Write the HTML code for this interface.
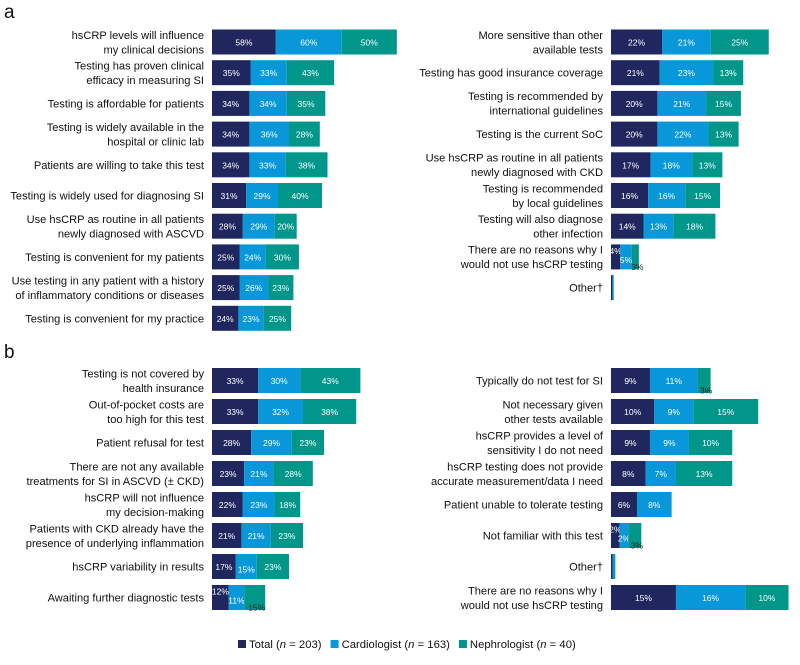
<!DOCTYPE html>
<html><head><meta charset="utf-8"><style>
body{margin:0;background:#fff;}
svg{display:block;font-family:"Liberation Sans",Arial,sans-serif;}
</style></head><body>
<svg id="chart" width="800" height="665" viewBox="0 0 800 665">
<text x="4" y="18" font-size="19" fill="#111">a</text>
<text x="4" y="358" font-size="19" fill="#111">b</text>
<g id="legend"></g>
</svg>
<script>
const colors=["#20275e","#0897d8","#00968a"];
const seriesNames=["Total","Cardiologist","Nephrologist"];
const seriesN=["203","163","40"];

const aLeftCats=[["hsCRP levels will influence","my clinical decisions"],["Testing has proven clinical","efficacy in measuring SI"],["Testing is affordable for patients"],["Testing is widely available in the","hospital or clinic lab"],["Patients are willing to take this test"],["Testing is widely used for diagnosing SI"],["Use hsCRP as routine in all patients","newly diagnosed with ASCVD"],["Testing is convenient for my patients"],["Use testing in any patient with a history","of inflammatory conditions or diseases"],["Testing is convenient for my practice"]];
const aLeftTotal=[58,35,34,34,34,31,28,25,25,24];
const aLeftCardio=[60,33,34,36,33,29,29,24,26,23];
const aLeftNephro=[50,43,35,28,38,40,20,30,23,25];

const aRightCats=[["More sensitive than other","available tests"],["Testing has good insurance coverage"],["Testing is recommended by","international guidelines"],["Testing is the current SoC"],["Use hsCRP as routine in all patients","newly diagnosed with CKD"],["Testing is recommended","by local guidelines"],["Testing will also diagnose","other infection"],["There are no reasons why I","would not use hsCRP testing"],["Other†"]];
const aRightTotal=[22,21,20,20,17,16,14,4,0.6];
const aRightCardio=[21,23,21,22,18,16,13,5,0.6];
const aRightNephro=[25,13,15,13,13,15,18,3,0];

const bLeftCats=[["Testing is not covered by","health insurance"],["Out-of-pocket costs are","too high for this test"],["Patient refusal for test"],["There are not any available","treatments for SI in ASCVD (± CKD)"],["hsCRP will not influence","my decision-making"],["Patients with CKD already have the","presence of underlying inflammation"],["hsCRP variability in results"],["Awaiting further diagnostic tests"]];
const bLeftTotal=[33,33,28,23,22,21,17,12];
const bLeftCardio=[30,32,29,21,23,21,15,11];
const bLeftNephro=[43,38,23,28,18,23,23,15];

const bRightCats=[["Typically do not test for SI"],["Not necessary given","other tests available"],["hsCRP provides a level of","sensitivity I do not need"],["hsCRP testing does not provide","accurate measurement/data I need"],["Patient unable to tolerate testing"],["Not familiar with this test"],["Other†"],["There are no reasons why I","would not use hsCRP testing"]];
const bRightTotal=[9,10,9,8,6,2,0.4,15];
const bRightCardio=[11,9,9,7,8,2,0.6,16];
const bRightNephro=[3,15,10,13,0,3,0,10];

const NS="http://www.w3.org/2000/svg";
const svg=document.getElementById('chart');
function mk(tag,attrs,parent){const e=document.createElementNS(NS,tag);for(const k in attrs)e.setAttribute(k,attrs[k]);(parent||svg).appendChild(e);return e;}

function panel(id,cats,series,x0,scale,y0,step,labelX){
  const g=mk('g',{});
  
  
  const xs=v=>v*scale;
  cats.forEach((lines,i)=>{
    const cy=y0+i*step;
    const t=mk('text',{x:labelX,'text-anchor':'end','font-size':'11.1',fill:'#111'},g);
    
    
    lines.forEach((ln,j)=>{
      const ts=mk('tspan',{x:labelX,y:cy+4+(j-(lines.length-1)/2)*14.5},t);ts.textContent=ln;
    });
    let x=x0;
    series.forEach((vals,s)=>{
      const v=vals[i]; if(!v) return;
      const w=xs(v);
      const r=mk('rect',{x:x,y:cy-12.5,width:w,height:25,fill:colors[s]},g);
      
      
      if(v>=1){
        let tx=x+w/2, ty=cy+3.5, fill='#fff';
        if(w<22){ty=cy-6+s*9+3; fill=s==2?'#222':'#fff'; if(s==2){tx=x+w/2+2;ty=cy+13;}}
        const lt=mk('text',{x:tx,y:ty,'text-anchor':'middle','font-size':'8.5',fill:fill},g);
        
        
        lt.textContent=Math.round(v)+'%';
      }
      x+=w;
    });
  });
}
panel('panel-a-left',aLeftCats,[aLeftTotal,aLeftCardio,aLeftNephro],212,1.10,42,30.7,204);
panel('panel-a-right',aRightCats,[aRightTotal,aRightCardio,aRightNephro],611,2.32,42,30.7,603);
panel('panel-b-left',bLeftCats,[bLeftTotal,bLeftCardio,bLeftNephro],212,1.40,380.5,31,204);
panel('panel-b-right',bRightCats,[bRightTotal,bRightCardio,bRightNephro],611,4.33,380.5,31,603);

const lg=document.getElementById('legend');
let lx=238;
seriesNames.forEach((n,s)=>{
  const r=mk('rect',{x:lx,y:640,width:8,height:8,fill:colors[s]},lg);
  
  
  const t=mk('text',{x:lx+11,y:648,'font-size':'11.3',fill:'#111'},lg);
  
  
  t.appendChild(document.createTextNode(n+' ('));
  const it=mk('tspan',{'font-style':'italic'},t);it.textContent='n';
  t.appendChild(document.createTextNode(' = '+seriesN[s]+')'));
  lx+=11+t.getComputedTextLength()+9;
});
</script>
</body></html>
